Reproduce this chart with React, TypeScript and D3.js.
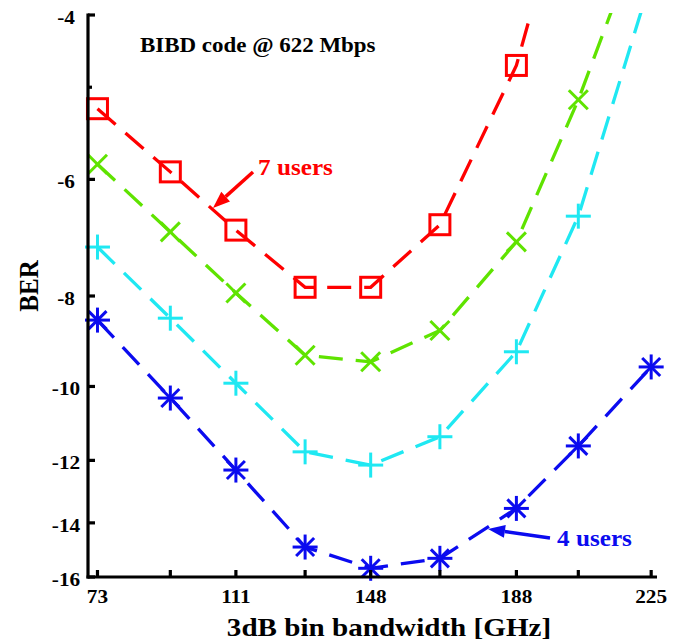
import React from 'react';
import * as d3 from 'd3';

// x positions (3dB bin bandwidth, GHz)
const xValues = [73, 93, 111, 130, 148, 167, 188, 205, 225];
const xTickLabels = [73, 111, 148, 188, 225];
const yTicks = [-4, -6, -8, -10, -12, -14, -16];
const yMinorTicks = [-4.78];

// log10(BER) values per series
const users7 = [-5.04, -5.89, -6.8, -7.83, -7.83, -6.71, -4.53, -2.62];
const users6 = [-5.78, -6.83, -7.94, -9.26, -9.41, -8.71, -7.0, -4.93, -3.05];
const users5 = [-7.09, -8.45, -9.92, -11.75, -12.14, -11.32, -9.18, -6.57, -3.66];
const users4 = [-8.49, -10.29, -12.29, -14.86, -15.66, -15.28, -13.51, -11.58, -9.53];

const seriesList = [
  { name: '7 users', values: users7, color: '#ff0000', marker: 'square' },
  { name: '6 users', values: users6, color: '#5fe300', marker: 'x' },
  { name: '5 users', values: users5, color: '#1fe8f2', marker: 'plus' },
  { name: '4 users', values: users4, color: '#0b0bef', marker: 'star' },
];

const W = 691;
const H = 643;
const SX = 1.12;
const FONT = 'Liberation Serif, Tinos, Times New Roman, DejaVu Serif, serif';

const xScale = d3.scaleLinear().domain([70.4, 226.6]).range([88, 657]);
const yLog = d3.scaleLog().domain([4, 16]).range([15, 577]);
const yScale = (v: number) => yLog(-v);

function T({ x, y, size, anchor = 'start', fill = '#000', rotate, children }: any) {
  return (
    <text
      transform={`translate(${x},${y}) scale(${SX},1)${rotate ? ` rotate(${rotate})` : ''}`}
      style={{ fontFamily: FONT, fontWeight: 700, fontSize: size + 'px' }}
      textAnchor={anchor}
      fill={fill}
    >
      {children}
    </text>
  );
}

function Marker({ type, cx, cy, color }: any) {
  const sw = 3;
  if (type === 'square') {
    return <rect x={cx - 10} y={cy - 10} width={20} height={20} fill="none" stroke={color} strokeWidth={sw} />;
  }
  if (type === 'x') {
    const r = 9.5;
    return (
      <g stroke={color} strokeWidth={sw}>
        <line x1={cx - r} y1={cy - r} x2={cx + r} y2={cy + r} />
        <line x1={cx - r} y1={cy + r} x2={cx + r} y2={cy - r} />
      </g>
    );
  }
  if (type === 'plus') {
    const r = 12.5;
    return (
      <g stroke={color} strokeWidth={sw}>
        <line x1={cx - r} y1={cy} x2={cx + r} y2={cy} />
        <line x1={cx} y1={cy - r} x2={cx} y2={cy + r} />
      </g>
    );
  }
  const r = 12.5;
  const d = 9;
  return (
    <g stroke={color} strokeWidth={sw}>
      <line x1={cx - r} y1={cy} x2={cx + r} y2={cy} />
      <line x1={cx} y1={cy - r} x2={cx} y2={cy + r} />
      <line x1={cx - d} y1={cy - d} x2={cx + d} y2={cy + d} />
      <line x1={cx - d} y1={cy + d} x2={cx + d} y2={cy - d} />
    </g>
  );
}

function Arrow({ x1, y1, x2, y2, color }: any) {
  const ang = Math.atan2(y2 - y1, x2 - x1);
  const len = 17;
  const hw = 6.5;
  const bx = x2 - len * Math.cos(ang);
  const by = y2 - len * Math.sin(ang);
  const px = -Math.sin(ang) * hw;
  const py = Math.cos(ang) * hw;
  return (
    <g>
      <line x1={x1} y1={y1} x2={bx} y2={by} stroke={color} strokeWidth={3.5} />
      <polygon points={`${x2},${y2} ${bx + px},${by + py} ${bx - px},${by - py}`} fill={color} />
    </g>
  );
}

export default function App() {
  const x0 = xScale.range()[0];
  const x1 = xScale.range()[1];
  const yTop = yLog.range()[0];
  const yBot = yLog.range()[1];

  const lineGen = (vals: number[]) =>
    d3
      .line<number>()
      .x((_, i) => xScale(xValues[i]))
      .y((d) => yScale(d))(vals) || '';

  return (
    <svg width={W} height={H} style={{ position: 'absolute', left: 0, top: 0, background: '#fff' }}>
      <defs>
        <clipPath id="plotClip">
          <rect x={x0} y={yTop - 2} width={x1 - x0} height={yBot - yTop + 2} />
        </clipPath>
      </defs>
      <rect x={0} y={0} width={W} height={H} fill="#fff" />

      {/* series lines */}
      <g clipPath="url(#plotClip)">
        {seriesList.map((s) => (
          <path
            key={s.name}
            d={lineGen(s.values)}
            fill="none"
            stroke={s.color}
            strokeWidth={3.3}
            strokeDasharray="24 13"
          />
        ))}
      </g>

      {/* markers */}
      {seriesList.map((s) =>
        s.values.map((v, i) =>
          -v >= 4 ? (
            <Marker key={s.name + i} type={s.marker} cx={xScale(xValues[i])} cy={yScale(v)} color={s.color} />
          ) : null
        )
      )}

      {/* axes */}
      <g stroke="#000" strokeWidth={3.2}>
        <line x1={x0} y1={yTop - 1.5} x2={x0} y2={yBot + 1.5} />
        <line x1={x0 - 1.5} y1={yBot} x2={x1} y2={yBot} />
        {yTicks.map((t) => (
          <line key={'yt' + t} x1={x0} y1={yScale(t)} x2={x0 + 7} y2={yScale(t)} />
        ))}
        {yMinorTicks.map((t) => (
          <line key={'ym' + t} x1={x0} y1={yScale(t)} x2={x0 + 4} y2={yScale(t)} />
        ))}
        {xValues.map((t) => (
          <line key={'xt' + t} x1={xScale(t)} y1={yBot} x2={xScale(t)} y2={yBot - 7} />
        ))}
      </g>

      {/* tick labels */}
      {yTicks.map((t) => (
        <T key={'yl' + t} x={66} y={yScale(t) + 9} size={19} anchor="middle">
          {String(t)}
        </T>
      ))}
      {xTickLabels.map((t) => (
        <T key={'xl' + t} x={xScale(t)} y={603} size={19} anchor="middle">
          {String(t)}
        </T>
      ))}

      {/* axis titles */}
      <T x={389} y={636} size={26} anchor="middle">
        3dB bin bandwidth [GHz]
      </T>
      <T x={38} y={286} size={25} anchor="middle" rotate={-90}>
        BER
      </T>

      {/* title */}
      <T x={140} y={52} size={20.5}>
        BIBD code @ 622 Mbps
      </T>

      {/* annotations */}
      <Arrow x1={253} y1={172} x2={213} y2={208} color="#ff0000" />
      <T x={258} y={175} size={22.5} fill="#ff0000">
        7 users
      </T>
      <Arrow x1={550} y1={538} x2={488} y2={529} color="#0b0bef" />
      <T x={557} y={546} size={22.5} fill="#0b0bef">
        4 users
      </T>
    </svg>
  );
}
